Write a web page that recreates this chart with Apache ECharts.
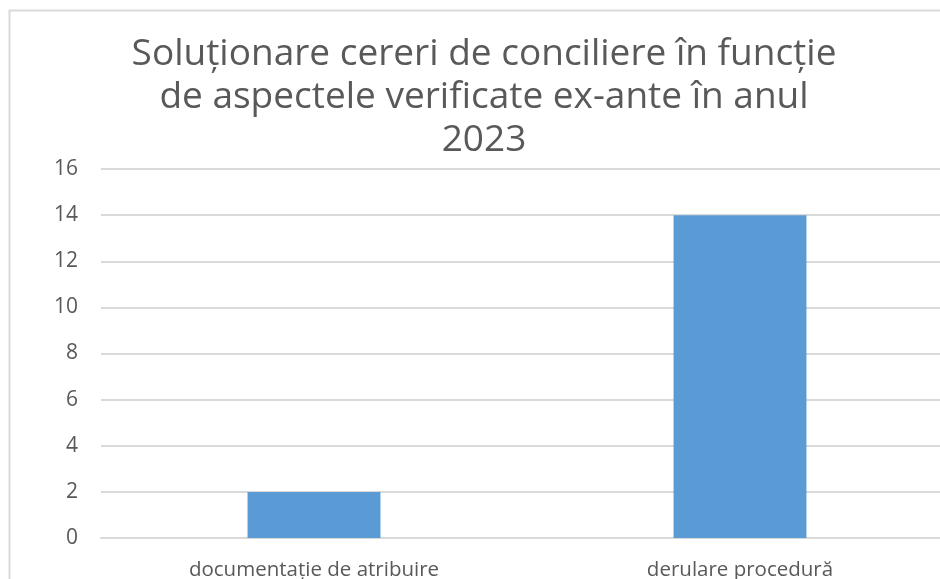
<!DOCTYPE html>
<html>
<head>
<meta charset="utf-8">
<script src="https://cdn.jsdelivr.net/npm/echarts@6/dist/echarts.min.js"></script>
<style>
html, body { margin: 0; padding: 0; background: #fff; overflow: hidden; }
#main { width: 940px; height: 579px; }
</style>
</head>
<body>
<div id="main"></div>
<script>
var myChart = echarts.init(document.getElementById('main'));

var titleText = 'Soluționare cereri de conciliere în funcție\nde aspectele verificate ex-ante în anul\n2023';
var categories = ['documentație de atribuire', 'derulare procedură'];
var values = [2, 14];
var yTicks = [0, 2, 4, 6, 8, 10, 12, 14, 16];

var textColor = '#595959';
var gridColor = '#d9d9d9';
var barColor = '#5b9bd5';

var option = {
	backgroundColor: '#fff',
	animation: false,
	graphic: [{
		type: 'rect',
		shape: { x: 9.5, y: 10.5, width: 1000, height: 1000 },
		style: { fill: 'none', stroke: gridColor, lineWidth: 2 },
		silent: true
	}],
	title: {
		text: titleText,
		left: 479,
		textAlign: 'center',
		top: 28,
		textStyle: {
			fontFamily: 'Open Sans',
			fontSize: 37,
			fontWeight: 'normal',
			color: textColor,
			lineHeight: 43
		}
	},
	grid: {
		top: 169,
		left: 101,
		width: 852,
		height: 369,
		outerBoundsMode: 'none',
		containLabel: false
	},
	xAxis: {
		type: 'category',
		data: categories,
		axisLine: { show: true, lineStyle: { color: gridColor, width: 2 } },
		axisTick: { show: false },
		axisLabel: {
			color: textColor,
			fontFamily: 'Open Sans',
			fontSize: 20.5,
			margin: 22
		}
	},
	yAxis: {
		type: 'value',
		min: yTicks[0],
		max: yTicks[yTicks.length - 1],
		interval: 2,
		axisLine: { show: false },
		axisTick: { show: false },
		axisLabel: {
			color: textColor,
			fontFamily: 'Open Sans',
			fontSize: 21,
			margin: 23
		},
		splitLine: { lineStyle: { color: gridColor, width: 2 } }
	},
	series: [{
		type: 'bar',
		data: values,
		barWidth: '31.2%',
		itemStyle: { color: barColor }
	}]
};

myChart.setOption(option);
</script>
</body>
</html>
